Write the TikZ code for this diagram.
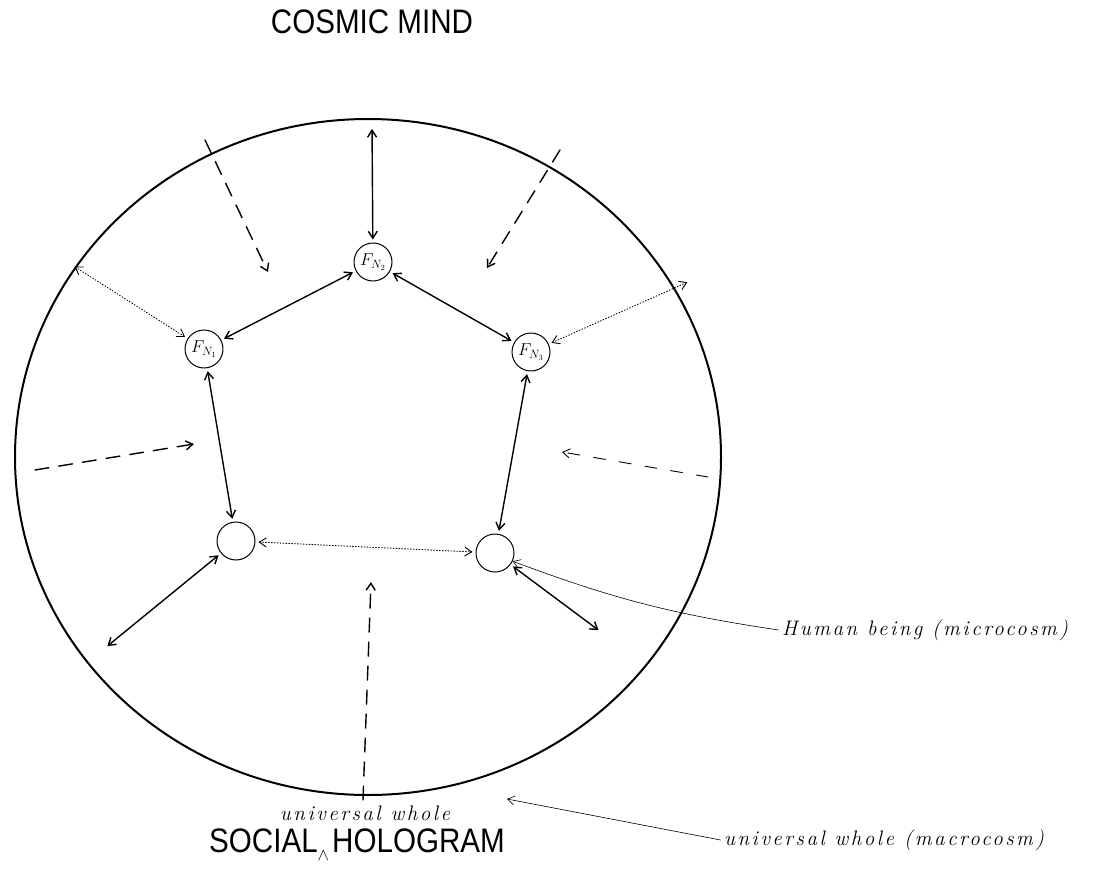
\documentclass[tikz,border=0pt]{standalone}
\usepackage{fontspec}
\newfontfamily\headfont[FakeStretch=0.87]{Liberation Sans}
\newfontfamily\handfont[LetterSpace=12]{Latin Modern Roman}
\usetikzlibrary{arrows.meta}

\begin{document}
\begin{tikzpicture}[x=1pt, y=-1pt, line cap=round, line join=round,
    >={Straight Barb[length=7pt,width=9pt]},
    member/.style={circle, draw, line width=1pt, minimum size=38pt, inner sep=0pt, font=\fontsize{17}{17}\selectfont},
    tie/.style={<->, line width=1.4pt, shorten <=3pt, shorten >=3pt},
    weaktie/.style={<->, line width=0.9pt, dotted, shorten <=3pt, shorten >=3pt},
    influx/.style={->, line width=1.4pt, dash pattern=on 14pt off 10pt},
    title/.style={font=\headfont\fontsize{34}{36}\selectfont},
    scrawl/.style={font=\handfont\itshape\fontsize{21}{23}\selectfont}]
	\useasboundingbox (0,0) rectangle (1098,872);
	% the whole (outer circle)
	\draw[line width=2pt] (368,457) ellipse [x radius=353, y radius=338];
	\node[title] (cosmic) at (372,22) {COSMIC MIND};
	\node[title] (social) at (357,845) {SOCIAL\raisebox{-8pt}{\fontsize{16}{16}\selectfont$\wedge$}\hspace{3pt}HOLOGRAM};
	\node[scrawl] (insert) at (365,813) {universal whole};
	% the five parts
	\node[member] (top) at (373,262) {$F_{N_2}$};
	\node[member] (lft) at (204,349) {$F_{N_1}$};
	\node[member] (rgt) at (531,352) {$F_{N_3}$};
	\node[member] (botl) at (236,541) {};
	\node[member] (botr) at (495,553) {};
	% free ends on the rim
	\coordinate (rimtop) at (372,126);
	\coordinate (rimbl) at (105,648);
	\coordinate (rimbr) at (601,632);
	\coordinate (outl) at (72,265);
	\coordinate (outr) at (690,281);
	\coordinate (rimlow) at (507,799);
	% ties between parts
	\draw[tie] (rimtop) -- (top);
	\draw[tie] (top) -- (lft);
	\draw[tie] (top) -- (rgt);
	\draw[tie] (lft) -- (botl);
	\draw[tie] (rgt) -- (botr);
	\draw[tie] (botl) -- (rimbl);
	\draw[tie] (botr) -- (rimbr);
	\draw[weaktie] (botl) -- (botr);
	\draw[weaktie] (lft) -- (outl);
	\draw[weaktie] (rgt) -- (outr);
	% dashed influences
	\draw[influx] (205,140) -- (268,272);
	\draw[influx] (560,150) -- (487,268);
	\draw[influx] (35,470) -- (194,444);
	\draw[influx, line width=0.9pt, dash pattern=on 12pt off 14pt] (708,477) -- (562,452);
	\draw[influx] (363,800) -- (371,582);
	% labels
	\node[scrawl] (micro) at (925,630) {Human being (microcosm)};
	\node[scrawl] (macro) at (884,840) {universal whole (macrocosm)};
	\draw[->, line width=0.6pt] (micro.west) to[bend left=6] (botr.-25);
	\draw[->, line width=0.6pt] (macro.west) -- (rimlow);
\end{tikzpicture}
\end{document}
